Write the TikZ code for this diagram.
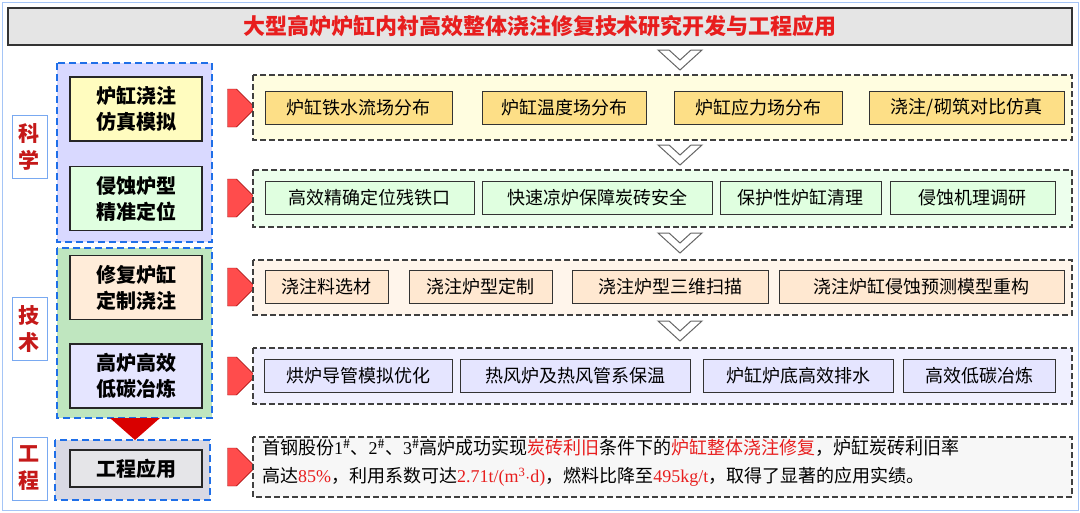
\documentclass[tikz,border=0pt]{standalone}
\usepackage{fontspec}
\setmainfont{Noto Sans CJK SC}
\newfontfamily\tms{Liberation Serif}
\usetikzlibrary{shapes.arrows}
\definecolor{titlered}{HTML}{E81E1E}
\definecolor{dashblue}{HTML}{1F6FE8}
\newcommand{\hot}[1]{\textcolor{titlered}{#1}}
\newcommand{\num}[1]{{\tms #1}}

\begin{document}
\begin{tikzpicture}[x=1pt, y=-1pt]
\tikzset{
    every node/.style = {inner sep=0pt, font=\fontsize{18}{22}\selectfont},
    frame/.style = {draw=black!75, line width=1.2pt, dash pattern=on 6pt off 3pt},
    group/.style = {draw=dashblue, line width=2pt, dash pattern=on 7pt off 4pt},
    theme/.style = {draw=black!85, line width=1.3pt, minimum width=132pt, minimum height=64pt,
        align=center, font=\fontsize{20}{26}\selectfont\bfseries},
    item/.style = {draw=black!80, line width=1pt, minimum height=33pt, align=center},
    side/.style = {draw=dashblue!60, fill=white, line width=1pt, minimum width=35pt, minimum height=63pt,
        align=center, text=titlered!85!black, font=\fontsize{21}{27}\selectfont\bfseries},
    push/.style = {single arrow, fill=red!70, draw=red!60!black, minimum height=28pt,
        minimum width=38pt, single arrow head extend=0pt, inner sep=0pt},
    chevron/.style = {fill=white, draw=black!60, line width=1pt}
}
\useasboundingbox (0,0) rectangle (1080,512);
\draw[draw=dashblue!40, line width=1pt] (2,2) rectangle (1078,510);

% -------------------------------------------------------
\node[draw=black!80, fill=black!10, line width=1.2pt, minimum width=1064pt, minimum height=37pt,
    text=titlered, font=\fontsize{22}{26}\selectfont\bfseries] (title) at (540,26.5)
    {大型高炉炉缸内衬高效整体浇注修复技术研究开发与工程应用};

\foreach \y in {60,155,243,331}
    \draw[chevron] (658,\y-10) -- (669,\y-10) -- (680,\y) -- (691,\y-10) -- (702,\y-10) -- (680,\y+10) -- cycle;

% -------------------------------------------------------
\node[side] (sci) at (29.5,146.5) {科\\学};
\node[side] (tech) at (29.5,329) {技\\术};
\node[side] (eng) at (29.5,468.5) {工\\程};

\filldraw[group, fill=blue!15] (57,63) rectangle (212,242);
\filldraw[group, fill=green!60!black!25] (57,248) rectangle (212,418);
\filldraw[group, fill=blue!30!black!15] (55,440) rectangle (210,500);
\fill[red!85!black] (110,418) -- (160,418) -- (135,440) -- cycle;

\node[theme, fill=yellow!25] (sim) at (136,109) {炉缸浇注\\仿真模拟};
\node[theme, fill=green!12] (pos) at (136,198.5) {侵蚀炉型\\精准定位};
\node[theme, fill=orange!15] (cast) at (136,287.5) {修复炉缸\\定制浇注};
\node[theme, fill=blue!10] (low) at (136,376) {高炉高效\\低碳冶炼};
\node[theme, fill=blue!10!black!10, minimum height=37pt] (app) at (136,468.5) {工程应用};

\foreach \n/\y in {sim/108, pos/198, cast/287, low/376, app/467}
    \node[push] (to\n) at (232,\y) {};

% -------------------------------------------------------
\filldraw[frame, fill=yellow!12] (253,75) rectangle (1072,140);
\filldraw[frame, fill=green!7] (253,170) rectangle (1072,227);
\filldraw[frame, fill=orange!8] (253,260) rectangle (1072,315);
\filldraw[frame, fill=blue!6] (253,348) rectangle (1072,404);
\filldraw[frame, fill=black!3] (253,437) rectangle (1072,497);

\foreach \a/\b/\t [count=\i] in {265/452/炉缸铁水流场分布, 482/646/炉缸温度场分布,
        674/842/炉缸应力场分布, 869/1064/{浇注/砌筑对比仿真}}
    \node[item, fill=yellow!50!orange!45, minimum width=\b-\a] (sim\i) at ({(\a+\b)/2},107.5) {\t};
\foreach \a/\b/\t [count=\i] in {265/474/高效精确定位残铁口, 482/712/快速凉炉保障炭砖安全,
        720/881/保护性炉缸清理, 890/1055/侵蚀机理调研}
    \node[item, fill=green!12, minimum width=\b-\a] (pos\i) at ({(\a+\b)/2},197.5) {\t};
\foreach \a/\b/\t [count=\i] in {265/388/浇注料选材, 409/552/浇注炉型定制,
        572/768/浇注炉型三维扫描, 779/1064/浇注炉缸侵蚀预测模型重构}
    \node[item, fill=orange!18, minimum width=\b-\a] (cast\i) at ({(\a+\b)/2},287) {\t};
\foreach \a/\b/\t [count=\i] in {264/452/烘炉导管模拟优化, 460/690/热风炉及热风管系保温,
        703/893/炉缸炉底高效排水, 903/1055/高效低碳冶炼}
    \node[item, fill=blue!10, minimum width=\b-\a] (low\i) at ({(\a+\b)/2},375.5) {\t};

\node[anchor=north west, align=left, text width=808pt, font=\fontsize{18}{28}\selectfont]
    (result) at (262,439) {首钢股份\num{1}\textsuperscript{\#}、\num{2}\textsuperscript{\#}、\num{3}\textsuperscript{\#}高炉成功实现\hot{炭砖利旧}条件下的\hot{炉缸整体浇注修复}，炉缸炭砖利旧率\\
    高达\hot{\num{85\%}}，利用系数可达\hot{\num{2.71t/(m\textsuperscript{3}$\cdot$d)}}，燃料比降至\hot{\num{495kg/t}}，取得了显著的应用实绩。};
\end{tikzpicture}
\end{document}
